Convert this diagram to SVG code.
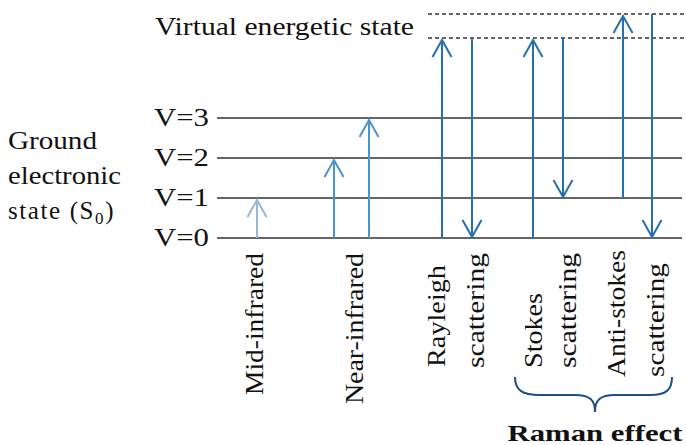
<svg xmlns="http://www.w3.org/2000/svg" width="686" height="445" viewBox="0 0 686 445">
  <style>
    .lbl { font-family: "Liberation Serif", "DejaVu Serif", "Noto Serif", serif; font-size: 25px; fill: #111; }
    .bold { font-family: "Liberation Serif", "DejaVu Serif", "Noto Serif", serif; font-size: 23px; font-weight: bold; fill: #111; }
    .level { stroke: #333; stroke-width: 1.5; fill: none; }
    .virtual { stroke: #333; stroke-width: 1.3; stroke-dasharray: 4 3; fill: none; }
    .mid { stroke: #9ab6d8; stroke-width: 2; fill: none; }
    .near { stroke: #4a94d0; stroke-width: 2; fill: none; }
    .scat { stroke: #2470b0; stroke-width: 2; fill: none; }
  </style>
  <defs>
    <marker id="head-mid" markerUnits="userSpaceOnUse" viewBox="-20 -12 22 24" refX="0" refY="0" markerWidth="22" markerHeight="24" orient="auto">
      <path d="M -17 -9.5 L 0 0 L -17 9.5" fill="none" stroke="#9ab6d8" stroke-width="2"/>
    </marker>
    <marker id="head-near" markerUnits="userSpaceOnUse" viewBox="-20 -12 22 24" refX="0" refY="0" markerWidth="22" markerHeight="24" orient="auto">
      <path d="M -17 -9.5 L 0 0 L -17 9.5" fill="none" stroke="#4a94d0" stroke-width="2"/>
    </marker>
    <marker id="head-scat" markerUnits="userSpaceOnUse" viewBox="-20 -12 22 24" refX="0" refY="0" markerWidth="22" markerHeight="24" orient="auto">
      <path d="M -17 -9.5 L 0 0 L -17 9.5" fill="none" stroke="#2470b0" stroke-width="2"/>
    </marker>
  </defs>

  <!-- energy levels -->
  <g id="levels">
    <line class="virtual" x1="428" y1="14" x2="686" y2="14"/>
    <line class="virtual" x1="428" y1="38" x2="686" y2="38"/>
    <line class="level" x1="217" y1="118" x2="682" y2="118"/>
    <line class="level" x1="217" y1="158" x2="682" y2="158"/>
    <line class="level" x1="217" y1="198" x2="682" y2="198"/>
    <line class="level" x1="217" y1="238" x2="682" y2="238"/>
  </g>

  <!-- level labels -->
  <g id="level-labels">
    <text class="lbl" x="155" y="35" textLength="259" lengthAdjust="spacingAndGlyphs">Virtual energetic state</text>
    <text class="lbl" x="209" y="126" text-anchor="end" textLength="55" lengthAdjust="spacingAndGlyphs">V=3</text>
    <text class="lbl" x="209" y="166" text-anchor="end" textLength="55" lengthAdjust="spacingAndGlyphs">V=2</text>
    <text class="lbl" x="209" y="206" text-anchor="end" textLength="55" lengthAdjust="spacingAndGlyphs">V=1</text>
    <text class="lbl" x="209" y="246" text-anchor="end" textLength="55" lengthAdjust="spacingAndGlyphs">V=0</text>
  </g>

  <g id="ground-state">
    <text class="lbl" x="8" y="149" textLength="89" lengthAdjust="spacingAndGlyphs">Ground</text>
    <text class="lbl" x="8" y="184" textLength="113" lengthAdjust="spacingAndGlyphs">electronic</text>
    <text class="lbl" x="8" y="219" letter-spacing="1.6">state (S<tspan font-size="17" dy="5">0</tspan><tspan dy="-5">)</tspan></text>
  </g>

  <!-- transitions -->
  <g id="connectors">
    <line class="mid" x1="257" y1="238" x2="257" y2="200" marker-end="url(#head-mid)"/>
    <line class="near" x1="334" y1="238" x2="334" y2="160" marker-end="url(#head-near)"/>
    <line class="near" x1="369" y1="238" x2="369" y2="120" marker-end="url(#head-near)"/>
    <line class="scat" x1="442" y1="238" x2="442" y2="40" marker-end="url(#head-scat)"/>
    <line class="scat" x1="472" y1="38" x2="472" y2="237" marker-end="url(#head-scat)"/>
    <line class="scat" x1="533" y1="238" x2="533" y2="40" marker-end="url(#head-scat)"/>
    <line class="scat" x1="563" y1="38" x2="563" y2="197" marker-end="url(#head-scat)"/>
    <line class="scat" x1="623" y1="198" x2="623" y2="16" marker-end="url(#head-scat)"/>
    <line class="scat" x1="652" y1="14" x2="652" y2="237" marker-end="url(#head-scat)"/>
  </g>

  <!-- transition names -->
  <g id="mid-infrared">
    <text class="lbl" transform="translate(263,395) rotate(-90)" textLength="142" lengthAdjust="spacingAndGlyphs">Mid-infrared</text>
  </g>
  <g id="near-infrared">
    <text class="lbl" transform="translate(363,404) rotate(-90)" textLength="151" lengthAdjust="spacingAndGlyphs">Near-infrared</text>
  </g>
  <g id="rayleigh">
    <text class="lbl" transform="translate(445,367) rotate(-90)" textLength="102" lengthAdjust="spacingAndGlyphs">Rayleigh</text>
    <text class="lbl" transform="translate(484,368) rotate(-90)" textLength="115" lengthAdjust="spacingAndGlyphs">scattering</text>
  </g>
  <g id="stokes">
    <text class="lbl" transform="translate(542,368) rotate(-90)" textLength="75" lengthAdjust="spacingAndGlyphs">Stokes</text>
    <text class="lbl" transform="translate(576,368) rotate(-90)" textLength="115" lengthAdjust="spacingAndGlyphs">scattering</text>
  </g>
  <g id="anti-stokes">
    <text class="lbl" transform="translate(625,377) rotate(-90)" textLength="127" lengthAdjust="spacingAndGlyphs">Anti-stokes</text>
    <text class="lbl" transform="translate(664,377) rotate(-90)" textLength="114" lengthAdjust="spacingAndGlyphs">scattering</text>
  </g>

  <!-- Raman brace -->
  <g id="raman">
    <path d="M 515 377 C 515 390, 522 395, 540 395 L 575 395 C 590 395, 595 400, 595 412 C 595 400, 600 395, 615 395 L 650 395 C 666 395, 672 390, 672 377" fill="none" stroke="#1d4f88" stroke-width="2"/>
    <text class="bold" x="595" y="441" text-anchor="middle" textLength="175" lengthAdjust="spacingAndGlyphs">Raman effect</text>
  </g>
</svg>
